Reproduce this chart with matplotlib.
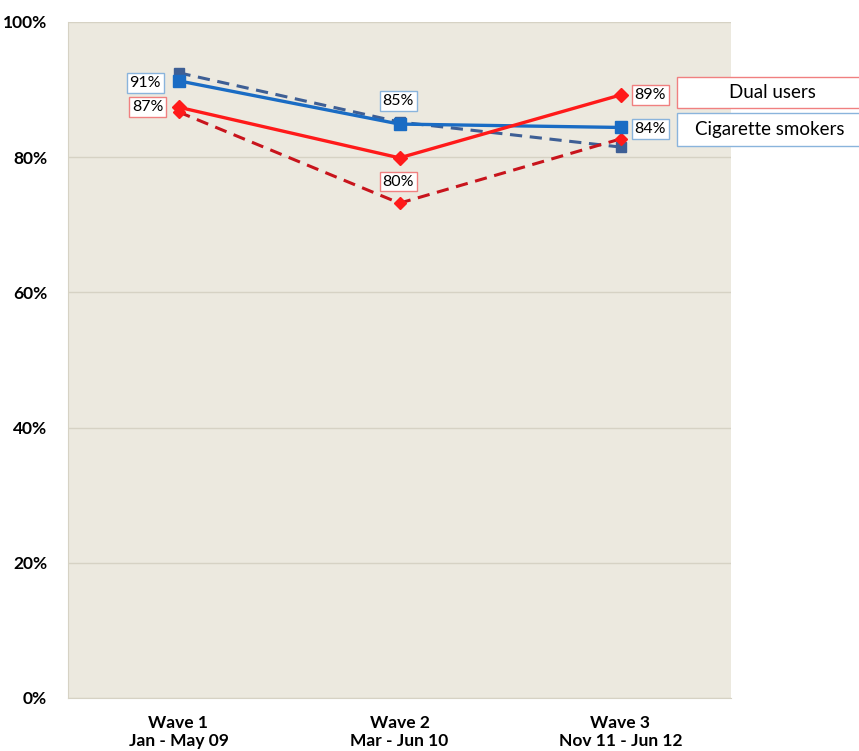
import numpy as np
import matplotlib
matplotlib.use("Agg")
from matplotlib import pyplot as plt

# survey waves
waves = ["Wave 1\nJan - May 09", "Wave 2\nMar - Jun 10", "Wave 3\nNov 11 - Jun 12"]

# percentages per group
cig_solid = [91.3, 84.9, 84.4]
cig_dashed = [92.5, 85.2, 81.5]
dual_solid = [87.4, 79.9, 89.2]
dual_dashed = [86.7, 73.2, 82.7]

# data labels shown on the chart
cig_labels = ["91%", "85%", "84%"]
dual_labels = ["87%", "80%", "89%"]

blue = "#1a6cc4"
blue_dk = "#3e5f95"
red = "#ff1a1a"
red_dk = "#c8141c"

plt.rcParams['font.family'] = ['Lato', 'DejaVu Sans']

fig = plt.figure(figsize=(8.59, 7.51), dpi=100)
ax = fig.add_axes([68 / 859, 53 / 751, 663 / 859, 676 / 751])
ax.set_facecolor("#ece9df")

x = np.arange(len(waves))
ax.plot(x, cig_dashed, color=blue_dk, lw=2.2, ls=(0, (4, 2.5)), marker="s", ms=7, zorder=3)
ax.plot(x, dual_dashed, color=red_dk, lw=2.2, ls=(0, (4, 2.5)), marker="D", ms=6.5,
        mfc=red, mec=red, zorder=3)
ax.plot(x, cig_solid, color=blue, lw=2.4, marker="s", ms=8, zorder=4)
ax.plot(x, dual_solid, color=red, lw=2.4, marker="D", ms=7, zorder=4)

ax.set_xlim(-0.5, 2.5)
ax.set_ylim(0, 100)
ax.set_yticks(np.arange(0, 101, 20))
ax.set_yticklabels([f"{v}%" for v in range(0, 101, 20)], fontsize=12.5, fontweight="bold")
ax.set_xticks(x)
ax.set_xticklabels(waves, fontsize=12.5, fontweight="bold", linespacing=1.15)
ax.tick_params(length=0)
ax.tick_params(axis="x", pad=12)
ax.tick_params(axis="y", pad=15)
ax.grid(axis="y", color="#d6d2c4", lw=1)
ax.set_axisbelow(True)
for s in ax.spines.values():
    s.set_visible(False)
ax.spines["left"].set_visible(True)
ax.spines["left"].set_color("#d6d2c4")
ax.spines["bottom"].set_visible(True)
ax.spines["bottom"].set_color("#d6d2c4")

# value labels
def tag(xv, yv, txt, ec):
    ax.text(xv, yv, txt, fontsize=11.5, ha="center", va="center", zorder=6,
            bbox=dict(boxstyle="square,pad=0.18", fc="white", ec=ec, lw=1))

tag(-0.15, 91.0, cig_labels[0], "#8ab4dc")
tag(-0.14, 87.4, dual_labels[0], "#f08080")
tag(0.995, 88.3, cig_labels[1], "#8ab4dc")
tag(0.995, 76.4, dual_labels[1], "#f08080")
tag(2.135, 89.2, dual_labels[2], "#f08080")
tag(2.135, 84.2, cig_labels[2], "#8ab4dc")

# legend boxes to the right of the plot
fig.patches.append(plt.Rectangle((677 / 859, 1 - 108 / 751), 200 / 859, 31 / 751,
                                 transform=fig.transFigure, fc="white", ec="#f08080", lw=1))
fig.patches.append(plt.Rectangle((677 / 859, 1 - 146 / 751), 200 / 859, 33 / 751,
                                 transform=fig.transFigure, fc="white", ec="#8ab4dc", lw=1))
fig.text(772 / 859, 1 - 93 / 751, "Dual users", fontsize=13.5, ha="center", va="center")
fig.text(770 / 859, 1 - 130 / 751, "Cigarette smokers", fontsize=13.5, ha="center", va="center")

fig.savefig("out.png", dpi=100)
